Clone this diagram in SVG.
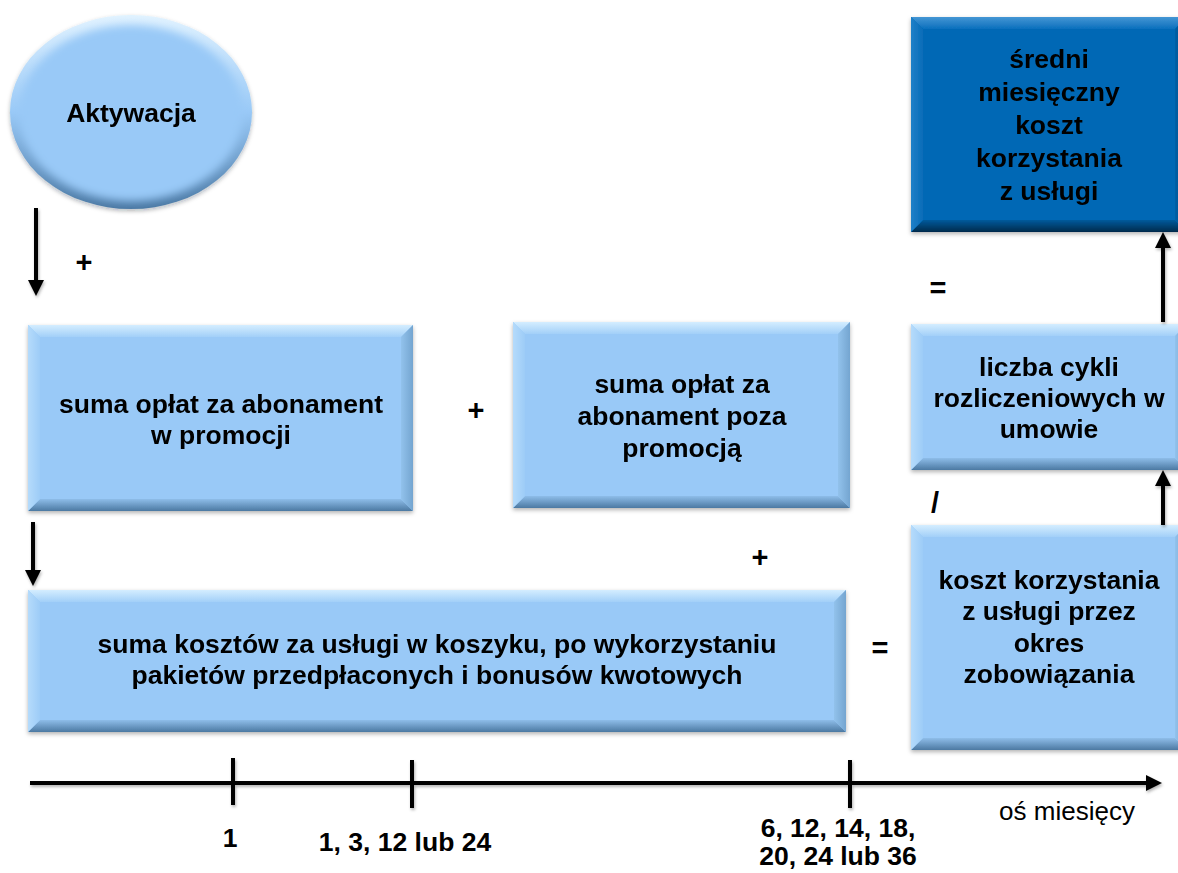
<svg xmlns="http://www.w3.org/2000/svg" width="1178" height="873" viewBox="0 0 1178 873">
<defs>
<style>
.t{font-family:"Liberation Sans",Arial,sans-serif;font-weight:bold;font-size:26.5px;fill:#000;text-anchor:middle}
.op{font-family:"Liberation Sans",Arial,sans-serif;font-weight:bold;font-size:29px;fill:#000;text-anchor:middle}
.r{font-family:"Liberation Sans",Arial,sans-serif;font-size:26px;fill:#000;text-anchor:middle}
.base{fill:#99c9f7}
.top{fill:url(#gTop)}
.bot{fill:url(#gBot)}
.lft{fill:url(#gLeft)}
.rgt{fill:url(#gRight)}
.dbase{fill:#0068b5}
.dtop{fill:url(#dTop)}
.dbot{fill:url(#dBot)}
.dlft{fill:url(#dLeft)}
.drgt{fill:url(#dRight)}
.ln{stroke:#000;stroke-width:4;fill:none}
</style>
<linearGradient id="gTop" x1="0" y1="0" x2="0" y2="1"><stop offset="0" stop-color="#d4edff"/><stop offset="1" stop-color="#a2cff8"/></linearGradient>
<linearGradient id="gBot" x1="0" y1="0" x2="0" y2="1"><stop offset="0" stop-color="#8ebde9"/><stop offset="1" stop-color="#4c79a2"/></linearGradient>
<linearGradient id="gLeft" x1="0" y1="0" x2="1" y2="0"><stop offset="0" stop-color="#b5dbfb"/><stop offset="1" stop-color="#9dccf7"/></linearGradient>
<linearGradient id="gRight" x1="0" y1="0" x2="1" y2="0"><stop offset="0" stop-color="#92c2ec"/><stop offset="1" stop-color="#74a5d0"/></linearGradient>
<linearGradient id="dTop" x1="0" y1="0" x2="0" y2="1"><stop offset="0" stop-color="#4596d4"/><stop offset="1" stop-color="#0a6fbd"/></linearGradient>
<linearGradient id="dBot" x1="0" y1="0" x2="0" y2="1"><stop offset="0" stop-color="#005a9c"/><stop offset="1" stop-color="#002a4c"/></linearGradient>
<linearGradient id="dLeft" x1="0" y1="0" x2="1" y2="0"><stop offset="0" stop-color="#2080c8"/><stop offset="1" stop-color="#066cb8"/></linearGradient>
<linearGradient id="dRight" x1="0" y1="0" x2="1" y2="0"><stop offset="0" stop-color="#005fa6"/><stop offset="1" stop-color="#004a85"/></linearGradient>
<linearGradient id="eRim" x1="0" y1="0" x2="0" y2="1"><stop offset="0" stop-color="#e2f3ff"/><stop offset="0.5" stop-color="#99c9f7"/><stop offset="1" stop-color="#4a78a3"/></linearGradient>
<filter id="blur" x="-10%" y="-10%" width="120%" height="120%"><feGaussianBlur stdDeviation="4"/></filter>
<filter id="sh" x="-5%" y="-5%" width="110%" height="115%"><feDropShadow dx="0" dy="2" stdDeviation="2" flood-color="#000" flood-opacity="0.3"/></filter>
<filter id="ash" x="-50%" y="-10%" width="200%" height="120%"><feDropShadow dx="1" dy="2" stdDeviation="1.5" flood-color="#000" flood-opacity="0.3"/></filter>
<marker id="ah" viewBox="0 0 16 16" markerWidth="16" markerHeight="16" markerUnits="userSpaceOnUse" refX="8" refY="8" orient="auto"><path d="M0,0 L16,8 L0,16 z" fill="#000"/></marker>
</defs>
<rect width="1178" height="873" fill="#fff"/>

<g id="aktywacja" filter="url(#sh)">
<ellipse cx="131" cy="112" rx="121" ry="97" fill="url(#eRim)"/>
<ellipse cx="131" cy="113" rx="112" ry="88" class="base" filter="url(#blur)"/>
<text class="t" x="131" y="122">Aktywacja</text>
</g>

<g id="box-abonament-promocja" filter="url(#sh)">
<rect x="28" y="325" width="385" height="186" class="base"/>
<polygon class="top" points="28,325 413,325 401,337 40,337"/>
<polygon class="bot" points="28,511 413,511 401,499 40,499"/>
<polygon class="lft" points="28,325 40,337 40,499 28,511"/>
<polygon class="rgt" points="413,325 401,337 401,499 413,511"/>
<text class="t" x="221" y="413">suma opłat za abonament</text>
<text class="t" x="221" y="444">w promocji</text>
</g>

<g id="box-abonament-poza" filter="url(#sh)">
<rect x="513" y="322" width="337" height="186" class="base"/>
<polygon class="top" points="513,322 850,322 838,334 525,334"/>
<polygon class="bot" points="513,508 850,508 838,496 525,496"/>
<polygon class="lft" points="513,322 525,334 525,496 513,508"/>
<polygon class="rgt" points="850,322 838,334 838,496 850,508"/>
<text class="t" x="682" y="393">suma opłat za</text>
<text class="t" x="682" y="425">abonament poza</text>
<text class="t" x="682" y="457">promocją</text>
</g>

<g id="box-koszyk" filter="url(#sh)">
<rect x="28" y="590" width="818" height="142" class="base"/>
<polygon class="top" points="28,590 846,590 834,602 40,602"/>
<polygon class="bot" points="28,732 846,732 834,720 40,720"/>
<polygon class="lft" points="28,590 40,602 40,720 28,732"/>
<polygon class="rgt" points="846,590 834,602 834,720 846,732"/>
<text class="t" x="437" y="653">suma kosztów za usługi w koszyku, po wykorzystaniu</text>
<text class="t" x="437" y="684">pakietów przedpłaconych i bonusów kwotowych</text>
</g>

<g id="box-koszt" filter="url(#sh)">
<rect x="911" y="525" width="276" height="225" class="base"/>
<polygon class="top" points="911,525 1187,525 1175,537 923,537"/>
<polygon class="bot" points="911,750 1187,750 1175,738 923,738"/>
<polygon class="lft" points="911,525 923,537 923,738 911,750"/>
<polygon class="rgt" points="1187,525 1175,537 1175,738 1187,750"/>
<text class="t" x="1049" y="589">koszt korzystania</text>
<text class="t" x="1049" y="620">z usługi przez</text>
<text class="t" x="1049" y="652">okres</text>
<text class="t" x="1049" y="683">zobowiązania</text>
</g>

<g id="box-cykle" filter="url(#sh)">
<rect x="911" y="324" width="276" height="146" class="base"/>
<polygon class="top" points="911,324 1187,324 1175,336 923,336"/>
<polygon class="bot" points="911,470 1187,470 1175,458 923,458"/>
<polygon class="lft" points="911,324 923,336 923,458 911,470"/>
<polygon class="rgt" points="1187,324 1175,336 1175,458 1187,470"/>
<text class="t" x="1049" y="376">liczba cykli</text>
<text class="t" x="1049" y="407">rozliczeniowych w</text>
<text class="t" x="1049" y="438">umowie</text>
</g>

<g id="box-sredni" filter="url(#sh)">
<rect x="911" y="17" width="276" height="215" class="dbase"/>
<polygon class="dtop" points="911,17 1187,17 1175,29 923,29"/>
<polygon class="dbot" points="911,232 1187,232 1175,220 923,220"/>
<polygon class="dlft" points="911,17 923,29 923,220 911,232"/>
<polygon class="drgt" points="1187,17 1175,29 1175,220 1187,232"/>
<text class="t" x="1049" y="68">średni</text>
<text class="t" x="1049" y="101">miesięczny</text>
<text class="t" x="1049" y="134">koszt</text>
<text class="t" x="1049" y="167">korzystania</text>
<text class="t" x="1049" y="200">z usługi</text>
</g>

<g id="connectors" filter="url(#ash)">
<line class="ln" x1="36" y1="208" x2="36" y2="288" marker-end="url(#ah)"/>
<line class="ln" x1="33" y1="522" x2="33" y2="578" marker-end="url(#ah)"/>
<line class="ln" x1="1163" y1="525" x2="1163" y2="478" marker-end="url(#ah)"/>
<line class="ln" x1="1163" y1="322" x2="1163" y2="240" marker-end="url(#ah)"/>
</g>

<g id="operators">
<text class="op" x="84" y="272">+</text>
<text class="op" x="476" y="420">+</text>
<text class="op" x="760" y="567">+</text>
<text class="op" x="938" y="298">=</text>
<text class="op" x="880" y="658">=</text>
<text class="op" x="935" y="513">/</text>
</g>

<g id="axis" filter="url(#ash)">
<line class="ln" x1="30" y1="783" x2="1154" y2="783" marker-end="url(#ah)"/>
<line class="ln" x1="233" y1="758" x2="233" y2="805"/>
<line class="ln" x1="412" y1="760" x2="412" y2="808"/>
<line class="ln" x1="850" y1="760" x2="850" y2="808"/>
</g>
<g id="axis-labels">
<text class="t" x="230" y="847">1</text>
<text class="t" x="405" y="851">1, 3, 12 lub 24</text>
<text class="t" x="838" y="837">6, 12, 14, 18,</text>
<text class="t" x="838" y="865">20, 24 lub 36</text>
<text class="r" x="1067" y="820">oś miesięcy</text>
</g>
</svg>
